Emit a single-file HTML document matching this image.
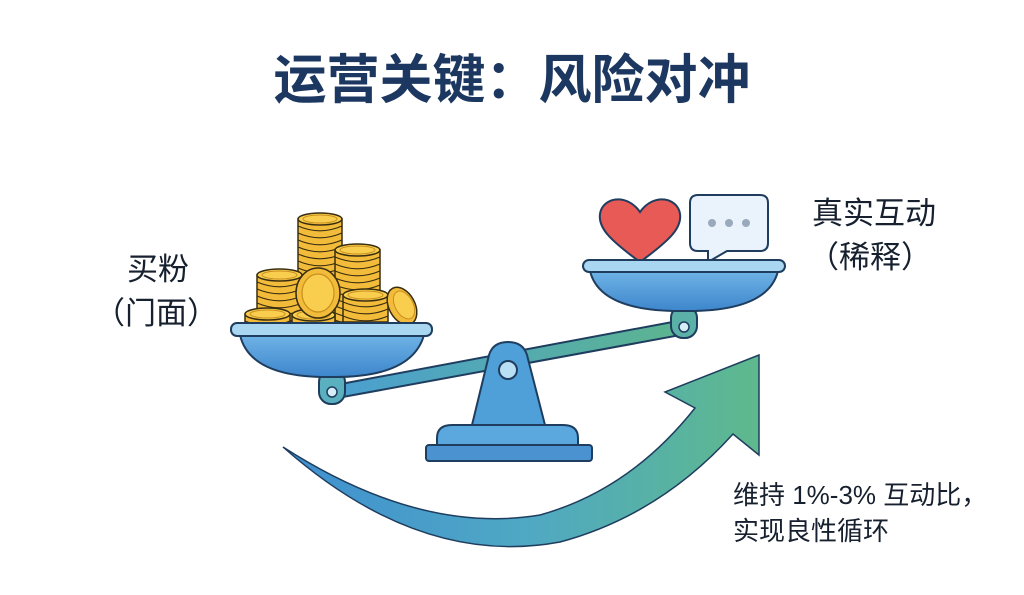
<!DOCTYPE html>
<html><head><meta charset="utf-8"><style>
html,body{margin:0;padding:0;background:#fff;}
body{width:1024px;height:590px;overflow:hidden;}
svg text{font-family:"Liberation Sans","Noto Sans CJK SC",sans-serif;}
</style></head><body>
<svg id="s" width="1024" height="590" viewBox="0 0 1024 590" xmlns="http://www.w3.org/2000/svg">
<defs>
<linearGradient id="ag" x1="280" y1="0" x2="770" y2="0" gradientUnits="userSpaceOnUse">
<stop offset="0" stop-color="#3f8fd0"/><stop offset="0.5" stop-color="#4fa8c4"/><stop offset="1" stop-color="#5fba8a"/></linearGradient>
<linearGradient id="bg" x1="330" y1="0" x2="690" y2="0" gradientUnits="userSpaceOnUse">
<stop offset="0" stop-color="#4a9fd2"/><stop offset="1" stop-color="#5db58e"/></linearGradient>
<linearGradient id="pg" x1="0" y1="0" x2="0" y2="1"><stop offset="0" stop-color="#6fb3e6"/><stop offset="1" stop-color="#3d86cc"/></linearGradient>
</defs>
<text x="512" y="98" font-size="53" font-weight="bold" fill="#1c3760" text-anchor="middle">运营关键：风险对冲</text>
<g font-size="31" fill="#16202e">
<text x="158" y="280" text-anchor="middle">买粉</text>
<text x="156" y="324" text-anchor="middle">（门面）</text>
<text x="874" y="224" text-anchor="middle">真实互动</text>
<text x="870" y="268" text-anchor="middle">（稀释）</text>
</g>
<g font-size="26" fill="#16202e">
<text x="733" y="504">维持 1%-3% 互动比，</text>
<text x="733" y="540">实现良性循环</text>
</g>
<!-- arrow -->
<path d="M283,447 Q420,568 560,542 Q660,515 733,434 L759,455 L759,355 L665,392 L695,408 Q630,490 540,515 Q420,535 283,447 Z" fill="url(#ag)" stroke="#1f3d5e" stroke-width="1.5"/>
<!-- beam -->
<path d="M330,386 L683,320 L686,334 L332,399 Z" fill="url(#bg)" stroke="#1f3d5e" stroke-width="2"/>
<!-- fulcrum -->
<path d="M472,425 L489,355 Q493,342 508,342 Q523,342 527,355 L545,425 Z" fill="#4f9fd8" stroke="#1f3d5e" stroke-width="2"/>
<circle cx="508" cy="370" r="9" fill="#b9dff5" stroke="#1f3d5e" stroke-width="2"/>
<path d="M437,445 L437,438 Q437,425 452,425 L563,425 Q578,425 578,438 L578,445 Z" fill="#5aa8de" stroke="#1f3d5e" stroke-width="2"/>
<rect x="426" y="445" width="166" height="16" rx="3" fill="#4a92d0" stroke="#1f3d5e" stroke-width="2"/>
<!-- left hook -->
<rect x="319" y="370" width="26" height="34" rx="12" fill="#5bb0c0" stroke="#1f3d5e" stroke-width="2"/>
<circle cx="332" cy="392" r="5" fill="#d6eef7" stroke="#1f3d5e" stroke-width="1.5"/>
<!-- right hook -->
<rect x="671" y="306" width="26" height="32" rx="12" fill="#5bb0a8" stroke="#1f3d5e" stroke-width="2"/>
<circle cx="684" cy="327" r="5" fill="#d6eef7" stroke="#1f3d5e" stroke-width="1.5"/>
<!-- left bowl -->
<path d="M240,335 Q250,378 331,377 Q412,378 424,335 Z" fill="url(#pg)" stroke="#1f3d5e" stroke-width="2"/>
<g id="coins"></g>
<rect x="231" y="323" width="201" height="13" rx="6" fill="#a9d6f0" stroke="#1f3d5e" stroke-width="2"/>
<!-- right bowl -->
<path d="M590,271 Q600,312 684,311 Q768,312 778,271 Z" fill="url(#pg)" stroke="#1f3d5e" stroke-width="2"/>
<path d="M640,262 C610,240 598,228 600,214 C602,198 626,192 640,212 C654,192 678,198 680,214 C682,228 670,240 640,262 Z" fill="#e85a55" stroke="#1f3d5e" stroke-width="2"/>
<path d="M698,195 L760,195 Q768,195 768,203 L768,243 Q768,251 760,251 L727,251 L708,262 L708,251 L698,251 Q690,251 690,243 L690,203 Q690,195 698,195 Z" fill="#eaf2fb" stroke="#1f3d5e" stroke-width="2"/>
<circle cx="712" cy="223" r="4" fill="#9aa9bb"/><circle cx="729" cy="223" r="4" fill="#9aa9bb"/><circle cx="746" cy="223" r="4" fill="#9aa9bb"/>
<rect x="583" y="260" width="202" height="12" rx="6" fill="#a9d6f0" stroke="#1f3d5e" stroke-width="2"/>
</svg>
<script>
var g=document.getElementById('coins'),ns='http://www.w3.org/2000/svg';
function el(t,a){var e=document.createElementNS(ns,t);for(var k in a)e.setAttribute(k,a[k]);g.appendChild(e);return e;}
function stack(x1,x2,top,bot){var cx=(x1+x2)/2,rx=(x2-x1)/2,ry=6,h=7;
 el('rect',{x:x1,y:top,width:x2-x1,height:bot-top,fill:'#f2bb3a',stroke:'#3a2e10','stroke-width':1.5});
 for(var y=top+h;y<bot;y+=h){el('path',{d:'M'+x1+','+y+' Q'+cx+','+(y+ry*1.6)+' '+x2+','+y,fill:'none',stroke:'#3a2e10','stroke-width':1.2});}
 el('ellipse',{cx:cx,cy:top,rx:rx,ry:ry,fill:'#f9cd4e',stroke:'#3a2e10','stroke-width':1.5});
 el('ellipse',{cx:cx,cy:top,rx:rx-5,ry:ry-2,fill:'none',stroke:'#c8901e','stroke-width':1});}
stack(298,342,219,322);stack(335,380,250,322);stack(257,302,275,322);
stack(292,335,315,323);stack(245,290,314,323);
el('ellipse',{cx:318,cy:293,rx:22,ry:25,fill:'#f2bb3a',stroke:'#3a2e10','stroke-width':1.5});
el('ellipse',{cx:318,cy:293,rx:16,ry:19,fill:'#f9cd4e',stroke:'#c8901e','stroke-width':1.2});
stack(343,388,295,322);
el('ellipse',{cx:402,cy:306,rx:13,ry:20,fill:'#f2bb3a',stroke:'#3a2e10','stroke-width':1.5,transform:'rotate(-28 402 306)'});
el('ellipse',{cx:404,cy:305,rx:9,ry:15,fill:'#f9cd4e',stroke:'#c8901e','stroke-width':1,transform:'rotate(-28 404 305)'});
</script>
</body></html>
